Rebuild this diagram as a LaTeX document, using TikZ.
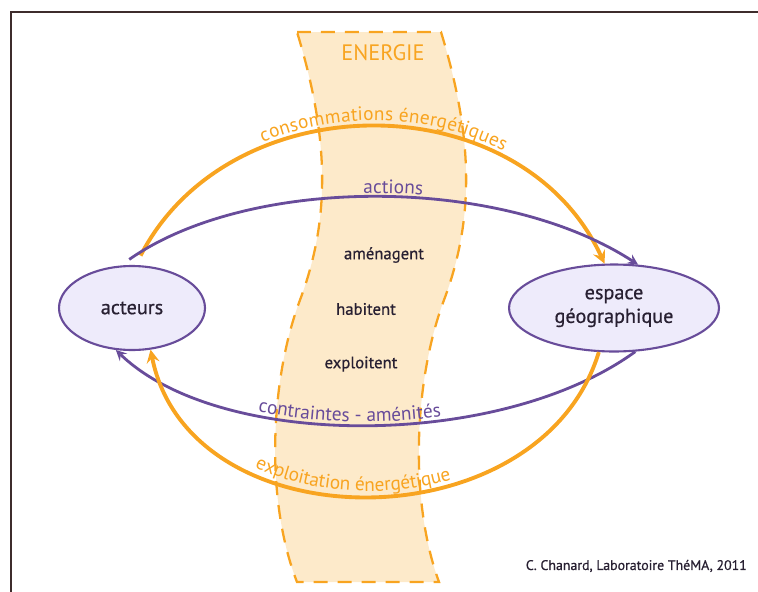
\documentclass[tikz,border=0pt]{standalone}
\usepackage{fontspec}
\setmainfont{PT Sans}
\newfontfamily\grasfont[FakeBold=0.6]{PT Sans}
\usetikzlibrary{positioning, shapes.geometric, decorations.text}
\definecolor{energieorange}{RGB}{248,164,32}
\definecolor{energiefond}{RGB}{253,234,202}
\definecolor{lieuviolet}{RGB}{104,76,154}
\definecolor{lieufond}{RGB}{238,235,251}
\definecolor{texte}{RGB}{40,32,50}
\definecolor{cadre}{RGB}{62,44,44}

\begin{document}
\begin{tikzpicture}[
		x=0.02cm, y=-0.02cm,
		lieu/.style={draw=lieuviolet, fill=lieufond, line width=1.2pt, ellipse, inner sep=0pt, align=center, text=texte, font=\grasfont\fontsize{11.5}{13.5}\selectfont},
		verbe/.style={text=texte, font=\grasfont\fontsize{9.5}{11.5}\selectfont},
		arrow/.style={->, >=stealth},
		conso/.style={arrow, draw=energieorange, line width=2.2pt},
		action/.style={arrow, draw=lieuviolet, line width=1.6pt},
		bande/.style={draw=energieorange, fill=energiefond, line width=1.3pt, dash pattern=on 0.28cm off 0.2cm},
		etiquette/.style={postaction={decorate, decoration={text along path, raise=#1}}}
		]
		\useasboundingbox (0,0) rectangle (758,592);
		\draw[cadre, line width=0.9pt] (11,592) -- (11,12) -- (758,12);

		% bande energie
		\draw[bande] (297,32) -- (441,32)
			.. controls (474,140) and (474,220) .. (444,300)
			.. controls (414,380) and (409,500) .. (439,582)
			-- (297,582)
			.. controls (265,500) and (270,380) .. (300,300)
			.. controls (330,220) and (330,140) .. (297,32) -- cycle;
		\node[text=energieorange, font=\fontsize{12.7}{14}\selectfont] (energie) at (383,53) {ENERGIE};

		\node[lieu, minimum width=2.92cm, minimum height=1.68cm] (acteurs) at (132,308) {acteurs};
		\node[lieu, minimum width=4.2cm, minimum height=1.74cm, right=6.04cm of acteurs] (espace) {espace\\géographique};

		\node[verbe] (amenagent) at (384,255) {aménagent};
		\node[verbe] (habitent) at (366,309) {habitent};
		\node[verbe] (exploitent) at (361,364) {exploitent};

		% flux
		\draw[conso, shorten <=6pt, etiquette=4pt, decoration={text align={center, left indent=0.52cm}, text={|\fontsize{11}{13}\selectfont\color{energieorange}|consommations énergétiques}}]
			(acteurs.85) .. controls (230,82) and (520,82) .. (espace.102);
		\draw[action, shorten <=6pt, etiquette=2.5pt, decoration={text align={center, left indent=0.56cm}, text={|\fontsize{11}{13}\selectfont\color{lieuviolet}|actions}}]
			(acteurs.105) .. controls (250,175) and (500,175) .. (espace.61);
		\draw[action, <-, etiquette=2pt, decoration={text align={center, right indent=1cm}, text={|\fontsize{11}{13}\selectfont\color{lieuviolet}|contraintes - aménités}}]
			(acteurs.249) .. controls (220,450) and (500,450) .. (espace.296);
		\draw[conso, <-, etiquette=3pt, decoration={text align={center, right indent=0.8cm}, text={|\fontsize{11}{13}\selectfont\color{energieorange}|exploitation énergétique}}]
			(acteurs.294) .. controls (190,545) and (540,545) .. (espace.251);

		\node[text=texte, anchor=east, font=\grasfont\fontsize{7.9}{9.5}\selectfont] (credit) at (753,566) {C. Chanard, Laboratoire ThéMA, 2011};
	\end{tikzpicture}
\end{document}
